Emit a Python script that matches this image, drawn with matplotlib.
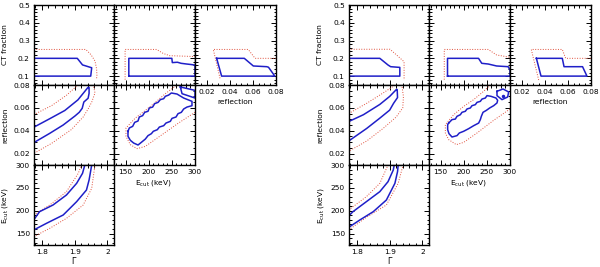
import matplotlib
matplotlib.use('Agg')
import matplotlib.pyplot as plt
from matplotlib.ticker import MultipleLocator, FixedLocator, FixedFormatter, NullFormatter

# ---------------- axis ranges & ticks ----------------
gamma_range = (1.776, 2.02)
ecut_range = (125, 300)
refl_range = (0.01, 0.08)
ct_range = (0.05, 0.5)

gamma_ticks = [1.8, 1.9, 2.0]
gamma_labels = ['1.8', '1.9', '2']
ecut_ticks = [150, 200, 250, 300]
ecut_labels = ['150', '200', '250', '300']
refl_ticks = [0.02, 0.04, 0.06, 0.08]
refl_labels = ['0.02', '0.04', '0.06', '0.08']
ct_ticks = [0.1, 0.2, 0.3, 0.4, 0.5]
ct_labels = ['0.1', '0.2', '0.3', '0.4', '0.5']

# ---------------- LEFT corner plot contours ----------------
L_gam_ct_in = [(1.775, 0.2), (1.908, 0.2), (1.924, 0.163), (1.952, 0.147), (1.949, 0.1), (1.775, 0.1), (1.775, 0.2)]
L_gam_ct_out = [(1.775, 0.25), (1.934, 0.25), (1.950, 0.22), (1.962, 0.185), (1.967, 0.14), (1.968, 0.1), (1.966, 0.08)]

L_ecut_ct_in = [(157, 0.1), (157, 0.2), (250, 0.2), (251, 0.176), (262, 0.178), (270, 0.172), (282, 0.168), (292, 0.165),
                (300, 0.162), (300, 0.1), (157, 0.1)]
L_ecut_ct_out = [(149, 0.08), (149, 0.25), (217, 0.25), (231, 0.228), (245, 0.215), (300, 0.21)]

L_refl_ct_in = [(0.0287, 0.2), (0.0526, 0.2), (0.0604, 0.157), (0.072, 0.153), (0.0735, 0.15), (0.079, 0.1),
                (0.033, 0.1), (0.0287, 0.2)]
L_refl_ct_out = [(0.0316, 0.088), (0.0258, 0.25), (0.056, 0.25), (0.0619, 0.2), (0.08, 0.2)]

L_gam_refl_in = [(1.775, 0.043), (1.824, 0.0505), (1.87, 0.0577), (1.91, 0.067), (1.941, 0.078), (1.944, 0.078),
                 (1.944, 0.0727), (1.941, 0.0684), (1.928, 0.0651), (1.923, 0.0596), (1.914, 0.0561), (1.901, 0.0529),
                 (1.865, 0.045), (1.824, 0.0377), (1.775, 0.0295)]
L_gam_refl_out = [(1.775, 0.054), (1.83, 0.062), (1.875, 0.071), (1.91, 0.08), (1.957, 0.08), (1.962, 0.073),
                  (1.952, 0.065), (1.941, 0.059), (1.926, 0.052), (1.89, 0.041), (1.83, 0.029), (1.775, 0.02)]

L_ecut_refl_in = [(155.2, 0.0395), (158.1, 0.0424), (165.3, 0.0438), (169.7, 0.0473), (176.9, 0.0485), (179.7, 0.052),
                  (186.9, 0.0532), (191.3, 0.0561), (198.5, 0.057), (201.3, 0.0599), (208.5, 0.0607), (212.9, 0.0637),
                  (220.1, 0.0648), (225.1, 0.0672), (232.3, 0.068), (235.9, 0.0701), (243.1, 0.0712), (248.9, 0.073),
                  (261.1, 0.0721), (275.5, 0.0686), (293.5, 0.0657), (293.5, 0.0619), (282.7, 0.0607), (275.5, 0.059),
                  (270.5, 0.0561), (263.3, 0.0549), (259.0, 0.052), (250.3, 0.0508), (246.7, 0.0482), (237.3, 0.0467),
                  (232.3, 0.0444), (223.0, 0.0432), (218.6, 0.0409), (210.0, 0.0395), (205.7, 0.0374), (198.5, 0.0357),
                  (192.7, 0.0327), (184.0, 0.0298), (176.9, 0.0275), (167.5, 0.0292), (160.3, 0.0316), (155.2, 0.0351),
                  (155.2, 0.0395)]
L_ecut_refl_in2 = [(268.3, 0.0783), (300, 0.0753), (300, 0.0686), (272, 0.0724), (268.3, 0.0783)]
L_ecut_refl_out = [(300, 0.0561), (264.7, 0.0468), (228.7, 0.0365), (192.7, 0.0263), (174.7, 0.0243), (160.3, 0.0278),
                   (150.9, 0.035), (150.9, 0.0424), (171.1, 0.0511), (192.7, 0.0578), (214.3, 0.0648), (235.9, 0.0724),
                   (261.1, 0.08)]

L_gam_ecut_in = [(1.775, 179.7), (1.793, 197.9), (1.834, 212.5), (1.875, 234.4), (1.906, 259.9), (1.924, 281.8),
                 (1.931, 300), (1.952, 300), (1.944, 267.2), (1.936, 245.3), (1.906, 219.8), (1.865, 190.6),
                 (1.814, 172.4), (1.775, 157.8)]
L_gam_ecut_out_up = [(1.775, 190.6), (1.824, 212.5), (1.875, 241.7), (1.911, 281.8), (1.921, 300)]
L_gam_ecut_out_lo = [(1.775, 143.2), (1.824, 161.5), (1.875, 183.3), (1.926, 212.5), (1.952, 249), (1.962, 300)]

# ---------------- RIGHT corner plot contours ----------------
R_gam_ct_in = [(1.775, 0.2), (1.870, 0.2), (1.895, 0.1625), (1.903, 0.153), (1.931, 0.149), (1.931, 0.1), (1.775, 0.1),
               (1.775, 0.2)]
R_gam_ct_out = [(1.775, 0.251), (1.901, 0.251), (1.921, 0.219), (1.944, 0.181), (1.944, 0.078)]

R_ecut_ct_in = [(165, 0.1), (165, 0.2), (232, 0.2), (239, 0.172), (253, 0.168), (271, 0.157), (296, 0.153),
                (300, 0.134), (300, 0.1), (165, 0.1)]
R_ecut_ct_out = [(158, 0.08), (158, 0.25), (253, 0.25), (271, 0.219), (300, 0.206)]

R_refl_ct_in = [(0.0328, 0.2), (0.0552, 0.2), (0.0567, 0.153), (0.0727, 0.153), (0.0765, 0.1), (0.0368, 0.1),
                (0.0328, 0.2)]
R_refl_ct_out = [(0.0348, 0.078), (0.0284, 0.25), (0.0552, 0.25), (0.0581, 0.2), (0.08, 0.2)]

R_gam_refl_in = [(1.775, 0.048), (1.82, 0.054), (1.87, 0.063), (1.90, 0.070), (1.921, 0.0762), (1.923, 0.076),
                 (1.924, 0.069), (1.912, 0.064), (1.90, 0.058), (1.87, 0.051), (1.83, 0.042), (1.80, 0.036),
                 (1.775, 0.031)]
R_gam_refl_out = [(1.775, 0.055), (1.83, 0.064), (1.88, 0.073), (1.917, 0.08), (1.937, 0.08), (1.942, 0.07),
                  (1.94, 0.06), (1.92, 0.052), (1.88, 0.042), (1.83, 0.031), (1.775, 0.022)]

R_ecut_refl_in = [(167.5, 0.0467), (174.7, 0.0497), (181.9, 0.0502), (185.5, 0.0526), (192.7, 0.054), (196.3, 0.0561),
                  (203.5, 0.057), (207.1, 0.059), (214.3, 0.0599), (217.9, 0.0619), (225.1, 0.0628), (228.7, 0.0648),
                  (235.9, 0.0657), (239.5, 0.0677), (246.7, 0.0686), (250.3, 0.0707), (258.9, 0.0701),
                  (269.7, 0.0686), (273.3, 0.0666), (271.9, 0.0643), (264.7, 0.0619), (256.1, 0.0599),
                  (248.9, 0.0578), (241.7, 0.0561), (238.1, 0.0526), (235.9, 0.0497), (232.3, 0.0467),
                  (221.5, 0.0444), (210.7, 0.0418), (199.9, 0.0395), (190.5, 0.038), (185.5, 0.0357),
                  (174.7, 0.0345), (168.2, 0.0374), (165.3, 0.0409), (165.3, 0.0453), (167.5, 0.0467)]
R_ecut_refl_in2 = [(271.9, 0.0745), (284.9, 0.0765), (297.1, 0.0739), (294.9, 0.0695), (282.7, 0.0672),
                   (271.9, 0.0707), (271.9, 0.0745)]
R_ecut_refl_best = [(284.9, 0.0707)]
R_ecut_refl_out = [(300, 0.059), (264.7, 0.0491), (228.7, 0.038), (199.9, 0.0298), (184.0, 0.0278), (167.5, 0.0322),
                   (160.3, 0.038), (160.3, 0.0453), (178.3, 0.054), (199.9, 0.0613), (221.5, 0.0672),
                   (243.1, 0.0745), (257.5, 0.08)]

R_gam_ecut_in = [(1.775, 188.4), (1.788, 197.9), (1.829, 219.8), (1.870, 241.7), (1.895, 263.5), (1.911, 289),
                 (1.914, 300), (1.926, 300), (1.924, 285.4), (1.916, 259.9), (1.890, 223.4), (1.850, 197.9),
                 (1.809, 179.7), (1.775, 163.6)]
R_gam_ecut_out_up = [(1.775, 201.6), (1.829, 230.7), (1.870, 259.9), (1.895, 300)]
R_gam_ecut_out_lo = [(1.775, 157.8), (1.829, 185.5), (1.890, 212.5), (1.926, 259.9), (1.941, 300)]

# ---------------- drawing ----------------
W, H = 600, 267
fig = plt.figure(figsize=(6.0, 2.67), dpi=100)
plt.rcParams['font.family'] = ['DejaVu Sans']
FS = 5.4
BLUE = '#1f1fc8'
RED = '#e0503c'


def add_ax(x0, y0, x1, y1):
    return fig.add_axes([x0 / W, 1 - y1 / H, (x1 - x0) / W, (y1 - y0) / H])


def style(ax, xr, yr, xt, xl, yt, yl, xmin, ymin, show_x, show_y):
    ax.set_xlim(*xr)
    ax.set_ylim(*yr)
    ax.xaxis.set_major_locator(FixedLocator(xt))
    ax.yaxis.set_major_locator(FixedLocator(yt))
    ax.xaxis.set_minor_locator(MultipleLocator(xmin))
    ax.yaxis.set_minor_locator(MultipleLocator(ymin))
    if show_x:
        ax.xaxis.set_major_formatter(FixedFormatter(xl))
    else:
        ax.xaxis.set_major_formatter(NullFormatter())
    if show_y:
        ax.yaxis.set_major_formatter(FixedFormatter(yl))
    else:
        ax.yaxis.set_major_formatter(NullFormatter())
    ax.tick_params(which='both', direction='in', top=True, right=True, labelsize=FS, pad=3, width=0.7)
    ax.tick_params(which='major', length=3.5)
    ax.tick_params(which='minor', length=1.8)
    for s in ax.spines.values():
        s.set_linewidth(1.0)


def draw(ax, pts, kind):
    xs = [p[0] for p in pts]
    ys = [p[1] for p in pts]
    if kind == 'in':
        ax.plot(xs, ys, color=BLUE, lw=1.1, zorder=2)
    elif kind == 'dot':
        ax.plot(xs, ys, 'o', color=BLUE, ms=1.5, zorder=2)
    else:
        ax.plot(xs, ys, color=RED, lw=0.7, ls=(0, (1, 1.6)), zorder=2)


def corner(xoff, c):
    cols = [(xoff, xoff + 80), (xoff + 80, xoff + 161), (xoff + 161, xoff + 242)]
    rows = [(5, 85), (85, 165), (165, 245)]
    # row 1
    a = add_ax(cols[0][0], rows[0][0], cols[0][1], rows[0][1])
    style(a, gamma_range, ct_range, gamma_ticks, gamma_labels, ct_ticks, ct_labels, 0.02, 0.02, False, True)
    draw(a, c['gam_ct_out'], 'out'); draw(a, c['gam_ct_in'], 'in')
    a = add_ax(cols[1][0], rows[0][0], cols[1][1], rows[0][1])
    style(a, ecut_range, ct_range, ecut_ticks, ecut_labels, ct_ticks, ct_labels, 10, 0.02, False, False)
    draw(a, c['ecut_ct_out'], 'out'); draw(a, c['ecut_ct_in'], 'in')
    a = add_ax(cols[2][0], rows[0][0], cols[2][1], rows[0][1])
    style(a, refl_range, ct_range, refl_ticks, refl_labels, ct_ticks, ct_labels, 0.005, 0.02, True, False)
    draw(a, c['refl_ct_out'], 'out'); draw(a, c['refl_ct_in'], 'in')
    # row 2
    a = add_ax(cols[0][0], rows[1][0], cols[0][1], rows[1][1])
    style(a, gamma_range, refl_range, gamma_ticks, gamma_labels, refl_ticks, refl_labels, 0.02, 0.005, False, True)
    draw(a, c['gam_refl_out'], 'out'); draw(a, c['gam_refl_in'], 'in')
    a = add_ax(cols[1][0], rows[1][0], cols[1][1], rows[1][1])
    style(a, ecut_range, refl_range, ecut_ticks, ecut_labels, refl_ticks, refl_labels, 10, 0.005, True, False)
    draw(a, c['ecut_refl_out'], 'out'); draw(a, c['ecut_refl_in'], 'in'); draw(a, c['ecut_refl_in2'], 'in')
    if 'ecut_refl_best' in c:
        draw(a, c['ecut_refl_best'], 'dot')
    # row 3
    a = add_ax(cols[0][0], rows[2][0], cols[0][1], rows[2][1])
    style(a, gamma_range, ecut_range, gamma_ticks, gamma_labels, ecut_ticks, ecut_labels, 0.02, 10, True, True)
    draw(a, c['gam_ecut_out_up'], 'out'); draw(a, c['gam_ecut_out_lo'], 'out'); draw(a, c['gam_ecut_in'], 'in')
    # axis labels
    lx = (xoff - 28.5) / W
    fig.text(lx, 1 - 45 / H, 'CT fraction', rotation=90, ha='center', va='center', fontsize=FS)
    fig.text(lx, 1 - 125 / H, 'reflection', rotation=90, ha='center', va='center', fontsize=FS)
    fig.text(lx, 1 - 205 / H, r'E$_{\rm cut}$ (keV)', rotation=90, ha='center', va='center', fontsize=FS)
    fig.text((xoff + 40) / W, 1 - 261 / H, 'Γ', ha='center', va='center', fontsize=FS + 0.5)
    fig.text((xoff + 120) / W, 1 - 183 / H, r'E$_{\rm cut}$ (keV)', ha='center', va='center', fontsize=FS)
    fig.text((xoff + 201) / W, 1 - 102 / H, 'reflection', ha='center', va='center', fontsize=FS)


left = dict(gam_ct_in=L_gam_ct_in, gam_ct_out=L_gam_ct_out, ecut_ct_in=L_ecut_ct_in, ecut_ct_out=L_ecut_ct_out,
            refl_ct_in=L_refl_ct_in, refl_ct_out=L_refl_ct_out, gam_refl_in=L_gam_refl_in,
            gam_refl_out=L_gam_refl_out, ecut_refl_in=L_ecut_refl_in, ecut_refl_in2=L_ecut_refl_in2,
            ecut_refl_out=L_ecut_refl_out, gam_ecut_in=L_gam_ecut_in, gam_ecut_out_up=L_gam_ecut_out_up,
            gam_ecut_out_lo=L_gam_ecut_out_lo)
right = dict(gam_ct_in=R_gam_ct_in, gam_ct_out=R_gam_ct_out, ecut_ct_in=R_ecut_ct_in, ecut_ct_out=R_ecut_ct_out,
             refl_ct_in=R_refl_ct_in, refl_ct_out=R_refl_ct_out, gam_refl_in=R_gam_refl_in,
             gam_refl_out=R_gam_refl_out, ecut_refl_in=R_ecut_refl_in, ecut_refl_in2=R_ecut_refl_in2,
             ecut_refl_best=R_ecut_refl_best, ecut_refl_out=R_ecut_refl_out, gam_ecut_in=R_gam_ecut_in,
             gam_ecut_out_up=R_gam_ecut_out_up, gam_ecut_out_lo=R_gam_ecut_out_lo)

corner(34, left)
corner(349, right)

fig.savefig('out.png', dpi=100)
